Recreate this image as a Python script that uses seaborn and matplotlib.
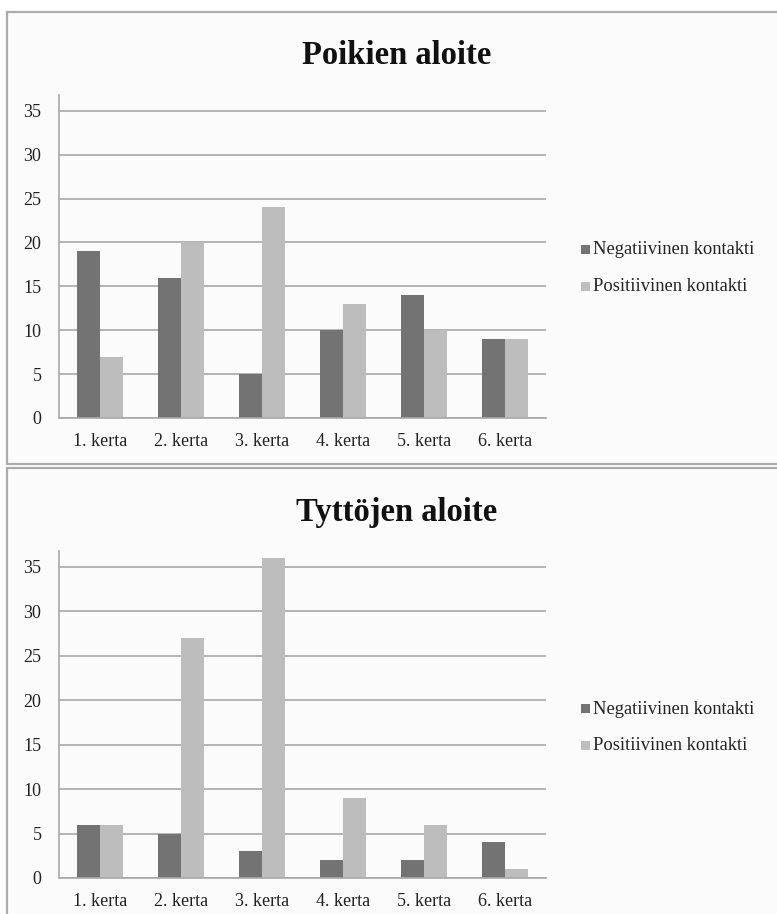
import matplotlib
matplotlib.use("Agg")
import matplotlib.pyplot as plt
import pandas as pd
import seaborn as sns
from matplotlib.patches import Rectangle

# Data
kerrat = ["1. kerta", "2. kerta", "3. kerta", "4. kerta", "5. kerta", "6. kerta"]
sarjat = ["Negatiivinen kontakti", "Positiivinen kontakti"]
poikien_negatiivinen = [19, 16, 5, 10, 14, 9]
poikien_positiivinen = [7, 20, 24, 13, 10, 9]
tyttojen_negatiivinen = [6, 5, 3, 2, 2, 4]
tyttojen_positiivinen = [6, 27, 36, 9, 6, 1]
y_ticks = [0, 5, 10, 15, 20, 25, 30, 35]
otsikot = ["Poikien aloite", "Tyttöjen aloite"]
varit = ["#737373", "#bdbdbd"]

sns.set_theme(style="white")
plt.rcParams["font.family"] = ["Liberation Serif", "DejaVu Serif"]

W, H = 777, 914
fig = plt.figure(figsize=(W / 100, H / 100), dpi=100)
fig.patch.set_facecolor("white")


def fx(px):
    return px / W


def fy(py):
    return 1 - py / H


def taulukko(neg, pos):
    return pd.DataFrame({
        "kerta": kerrat * 2,
        "sarja": [sarjat[0]] * len(kerrat) + [sarjat[1]] * len(kerrat),
        "arvo": list(neg) + list(pos),
    })


paneelit = [
    dict(top=11.5, bottom=463.5, ax_top=95, ax_zero=418, title_y=55,
         leg_y=(250, 287), neg=poikien_negatiivinen, pos=poikien_positiivinen),
    dict(top=468, bottom=918, ax_top=551, ax_zero=878, title_y=512,
         leg_y=(709, 746), neg=tyttojen_negatiivinen, pos=tyttojen_positiivinen),
]

grid_col = "#a8a8a8"
ax_left, ax_right = 59.5, 545.5

for i, p in enumerate(paneelit):
    # panel frame
    fig.patches.append(Rectangle((fx(7), fy(p["bottom"])), fx(790) - fx(7),
                                 fy(p["top"]) - fy(p["bottom"]),
                                 transform=fig.transFigure, facecolor="#fbfbfb",
                                 edgecolor="#ababab", lw=1.6, zorder=-5))

    ax = fig.add_axes([fx(ax_left), fy(p["ax_zero"]), fx(ax_right) - fx(ax_left),
                       (p["ax_zero"] - p["ax_top"]) / H])
    ax.set_zorder(2)
    ax.set_facecolor("none")
    df = taulukko(p["neg"], p["pos"])
    sns.barplot(data=df, x="kerta", y="arvo", hue="sarja", hue_order=sarjat,
                palette=varit, saturation=1, width=0.57, gap=0, ax=ax,
                legend=False, errorbar=None, linewidth=0)

    # the value axis runs a little above the top grid line
    ax.set_ylim(0, 36.8)
    ax.set_xlim(-0.5, 5.5)
    ax.set_yticks(y_ticks)
    ax.set_yticklabels([str(t) for t in y_ticks])
    ax.yaxis.grid(True, color=grid_col, lw=1.2)
    ax.xaxis.grid(False)
    ax.set_axisbelow(True)
    for s in ["top", "right"]:
        ax.spines[s].set_visible(False)
    for s in ["left", "bottom"]:
        ax.spines[s].set_color(grid_col)
        ax.spines[s].set_linewidth(1.2)
    ax.tick_params(axis="y", length=0, pad=13, labelsize=13, labelcolor="#222222")
    ax.tick_params(axis="x", length=0, pad=11, labelsize=13, labelcolor="#222222")
    ax.set_xlabel("")
    ax.set_ylabel("")

    fig.text(fx(397), fy(p["title_y"]), otsikot[i], ha="center", va="center",
             fontsize=23.5, fontweight="bold", color="#111111")

    # legend
    for j, (nimi, vari) in enumerate(zip(sarjat, varit)):
        yy = p["leg_y"][j]
        fig.patches.append(Rectangle((fx(581), fy(yy + 4)), fx(590) - fx(581),
                                     9 / H, transform=fig.transFigure,
                                     facecolor=vari, edgecolor="none", zorder=3))
        fig.text(fx(593), fy(yy), nimi, ha="left", va="center", fontsize=13.3,
                 color="#222222")

fig.savefig("out.png", dpi=100, facecolor="white")
